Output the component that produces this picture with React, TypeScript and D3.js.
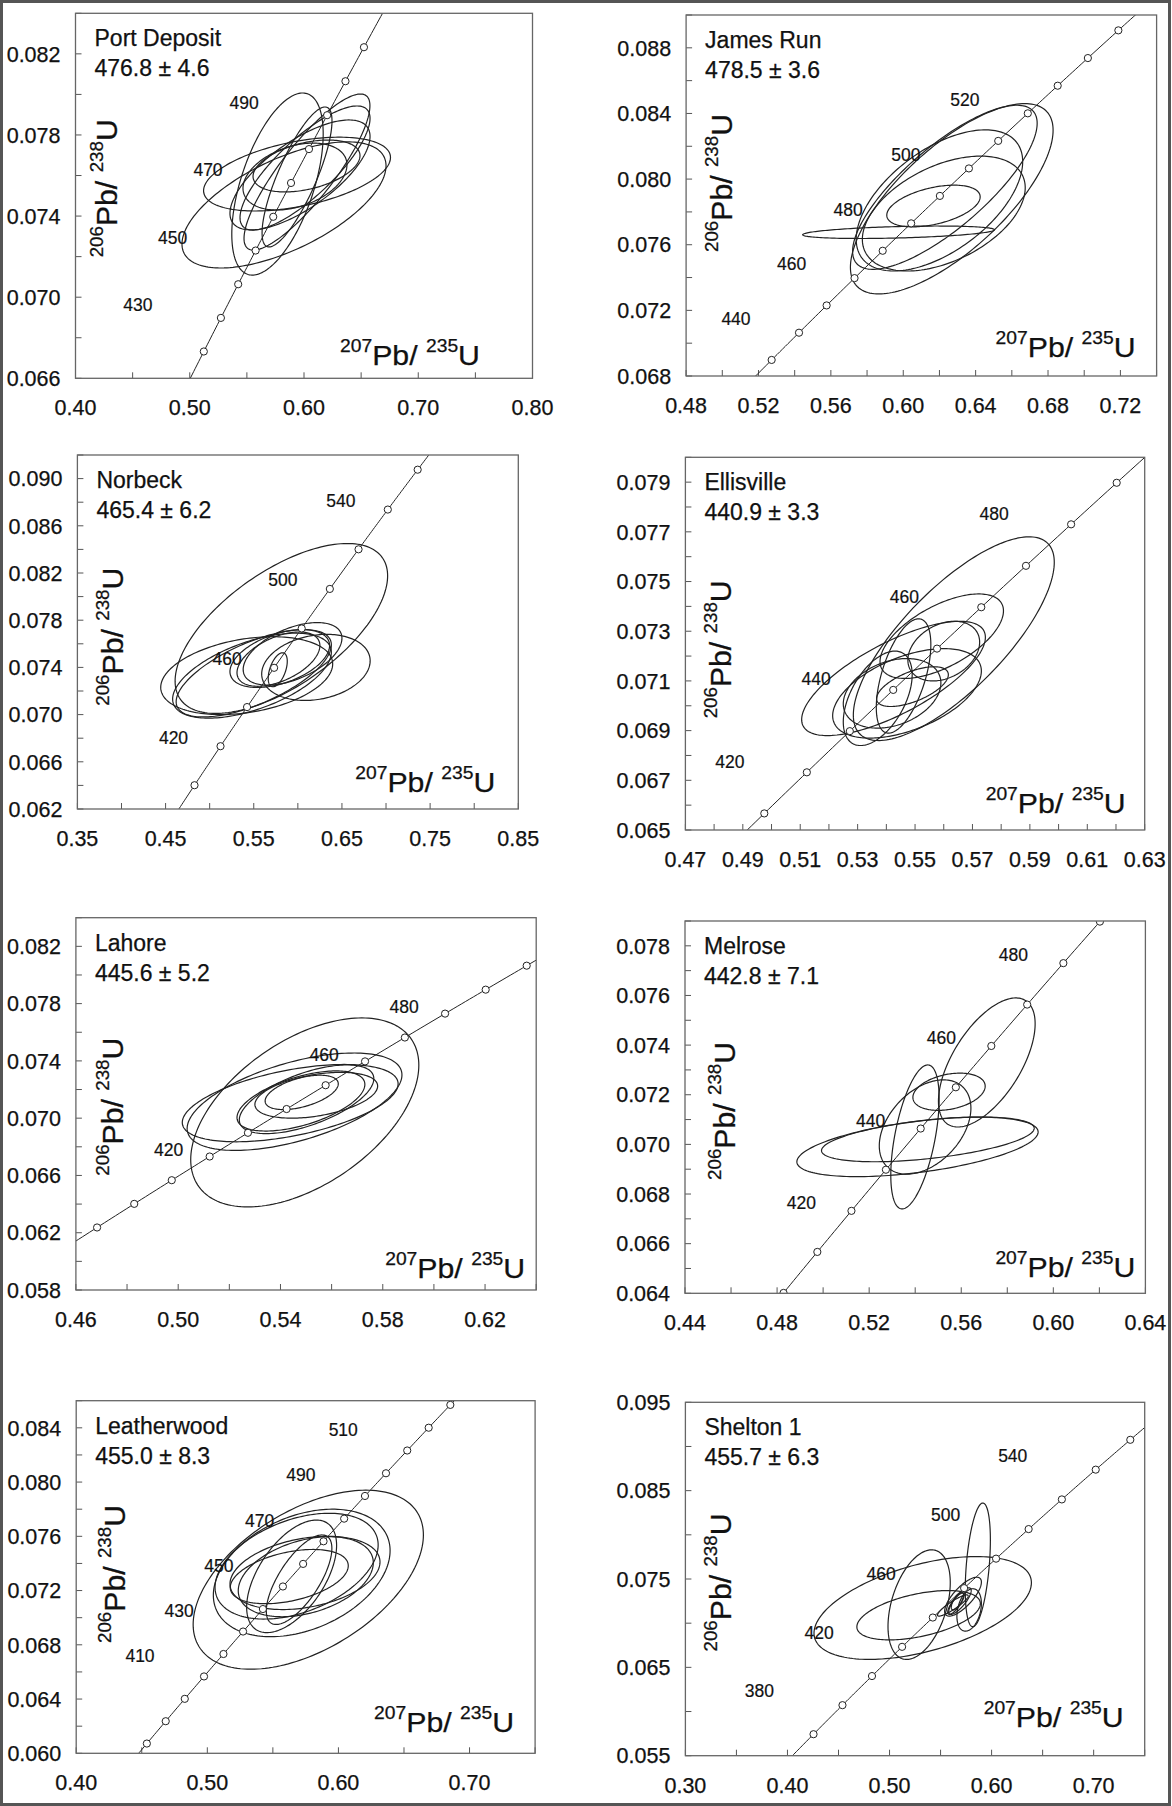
import React from 'react';
import * as d3 from 'd3';

// decay constants (per Ma)
const L238 = 1.55125e-4;
const L235 = 9.8485e-4;

const sampleNames = ['Port Deposit', 'James Run', 'Norbeck', 'Ellisville', 'Lahore', 'Melrose', 'Leatherwood', 'Shelton 1'];
const sampleAges = ['476.8 ± 4.6', '478.5 ± 3.6', '465.4 ± 6.2', '440.9 ± 3.3', '445.6 ± 5.2', '442.8 ± 7.1', '455.0 ± 8.3', '455.7 ± 6.3'];

const xDomains = [[0.40, 0.80], [0.48, 0.74], [0.35, 0.85], [0.47, 0.63], [0.46, 0.64], [0.44, 0.64], [0.40, 0.75], [0.30, 0.75]];
const yDomains = [[0.066, 0.084], [0.068, 0.090], [0.062, 0.092], [0.065, 0.080], [0.058, 0.084], [0.064, 0.079], [0.060, 0.086], [0.055, 0.095]];
const xTickSteps = [0.05, 0.02, 0.05, 0.01, 0.02, 0.02, 0.05, 0.05];
const yTickSteps = [0.002, 0.002, 0.002, 0.001, 0.002, 0.001, 0.002, 0.005];

const xTickLabels = [
  [0.40, 0.50, 0.60, 0.70, 0.80],
  [0.48, 0.52, 0.56, 0.60, 0.64, 0.68, 0.72],
  [0.35, 0.45, 0.55, 0.65, 0.75, 0.85],
  [0.47, 0.49, 0.51, 0.53, 0.55, 0.57, 0.59, 0.61, 0.63],
  [0.46, 0.50, 0.54, 0.58, 0.62],
  [0.44, 0.48, 0.52, 0.56, 0.60, 0.64],
  [0.40, 0.50, 0.60, 0.70],
  [0.30, 0.40, 0.50, 0.60, 0.70],
];
const yTickLabels = [
  [0.066, 0.070, 0.074, 0.078, 0.082],
  [0.068, 0.072, 0.076, 0.080, 0.084, 0.088],
  [0.062, 0.066, 0.070, 0.074, 0.078, 0.082, 0.086, 0.090],
  [0.065, 0.067, 0.069, 0.071, 0.073, 0.075, 0.077, 0.079],
  [0.058, 0.062, 0.066, 0.070, 0.074, 0.078, 0.082],
  [0.064, 0.066, 0.068, 0.070, 0.072, 0.074, 0.076, 0.078],
  [0.060, 0.064, 0.068, 0.072, 0.076, 0.080, 0.084],
  [0.055, 0.065, 0.075, 0.085, 0.095],
];

// concordia age markers (Ma)
const markerAges = [
  [420, 430, 440, 450, 460, 470, 480, 490, 500, 510],
  [430, 440, 450, 460, 470, 480, 490, 500, 510, 520, 530, 540, 550],
  [400, 420, 440, 460, 480, 500, 520, 540, 560],
  [410, 420, 430, 440, 450, 460, 470, 480, 490],
  [390, 400, 410, 420, 430, 440, 450, 460, 470, 480, 490, 500],
  [400, 410, 420, 430, 440, 450, 460, 470, 480, 490],
  [380, 390, 400, 410, 420, 430, 440, 450, 460, 470, 480, 490, 500, 510, 520, 530],
  [360, 380, 400, 420, 440, 460, 480, 500, 520, 540, 560],
];
const labelAges = [
  [430, 450, 470, 490],
  [440, 460, 480, 500, 520],
  [420, 460, 500, 540],
  [420, 440, 460, 480],
  [420, 460, 480],
  [420, 440, 460, 480],
  [410, 430, 450, 470, 490, 510],
  [380, 420, 460, 500, 540],
];

// error ellipses: [207Pb/235U, ±2s, 206Pb/238U, ±2s, rho]
const portDepositEllipses = [
  [0.5939, 0.0818, 0.07607, 0.00182, 0.45],
  [0.5825, 0.0893, 0.07455, 0.00311, 0.62],
  [0.5768, 0.0400, 0.07558, 0.00449, 0.55],
  [0.6026, 0.0551, 0.07617, 0.00385, 0.85],
  [0.6009, 0.0569, 0.07637, 0.00306, 0.80],
  [0.5965, 0.0613, 0.07603, 0.00271, 0.70],
  [0.6022, 0.0468, 0.07647, 0.00128, 0.40],
  [0.5939, 0.0306, 0.07593, 0.00345, 0.80],
  [0.5921, 0.0455, 0.07595, 0.00165, 0.35],
];
const jamesRunEllipses = [
  [0.6268, 0.0560, 0.0788, 0.0058, 0.72],
  [0.6230, 0.0510, 0.0795, 0.0050, 0.78],
  [0.6200, 0.0460, 0.0787, 0.0043, 0.55],
  [0.6224, 0.0450, 0.0779, 0.0035, 0.45],
  [0.6167, 0.0258, 0.07836, 0.00127, 0.44],
  [0.5974, 0.0530, 0.07676, 0.00038, 0.40],
];
const norbeckEllipses = [
  [0.5813, 0.1205, 0.0773, 0.0072, 0.62],
  [0.5420, 0.0975, 0.0733, 0.0033, 0.30],
  [0.5500, 0.0880, 0.0735, 0.0037, 0.65],
  [0.5480, 0.0900, 0.0733, 0.0036, 0.55],
  [0.5795, 0.0565, 0.07475, 0.00245, 0.45],
  [0.5780, 0.0470, 0.0747, 0.0023, 0.50],
  [0.5940, 0.0560, 0.07515, 0.00265, 0.50],
  [0.6205, 0.0615, 0.0740, 0.0028, 0.20],
  [0.5772, 0.0108, 0.0738, 0.00144, 0.50],
];
const ellisvilleEllipses = [
  [0.5635, 0.0350, 0.0727, 0.0041, 0.75],
  [0.5593, 0.0215, 0.0728, 0.0017, 0.60],
  [0.5472, 0.0259, 0.0705, 0.0018, 0.50],
  [0.5425, 0.0320, 0.0711, 0.0023, 0.72],
  [0.5491, 0.0125, 0.07077, 0.0008, 0.60],
  [0.5460, 0.0095, 0.0712, 0.0023, 0.55],
  [0.5370, 0.0120, 0.0703, 0.0019, 0.50],
  [0.5420, 0.0170, 0.0705, 0.0014, 0.30],
  [0.5600, 0.0125, 0.0722, 0.0012, 0.30],
];
const lahoreEllipses = [
  [0.5495, 0.0446, 0.0704, 0.0066, 0.50],
  [0.5438, 0.0422, 0.07105, 0.0027, 0.50],
  [0.5455, 0.0420, 0.07115, 0.0034, 0.55],
  [0.5502, 0.0263, 0.07132, 0.0024, 0.60],
  [0.5480, 0.0250, 0.0712, 0.0021, 0.55],
  [0.5540, 0.0240, 0.0716, 0.0016, 0.40],
  [0.5483, 0.0143, 0.0718, 0.0012, 0.50],
];
const melroseEllipses = [
  [0.5711, 0.0210, 0.0733, 0.0026, 0.60],
  [0.5547, 0.0157, 0.07212, 0.00075, 0.30],
  [0.5410, 0.0524, 0.0699, 0.0012, 0.50],
  [0.5455, 0.0462, 0.0702, 0.0009, 0.50],
  [0.5399, 0.0105, 0.0703, 0.0029, 0.53],
  [0.5443, 0.0199, 0.0707, 0.0019, 0.40],
];
const leatherwoodEllipses = [
  [0.5770, 0.0878, 0.0728, 0.0066, 0.50],
  [0.5720, 0.0674, 0.0733, 0.0047, 0.35],
  [0.5681, 0.0622, 0.0738, 0.0039, 0.40],
  [0.5745, 0.0572, 0.0733, 0.0027, 0.30],
  [0.5643, 0.0343, 0.07305, 0.00415, 0.55],
  [0.5625, 0.0450, 0.07303, 0.0020, 0.40],
  [0.5751, 0.0515, 0.07302, 0.00295, 0.35],
  [0.5700, 0.0250, 0.0728, 0.0033, 0.70],
];
const sheltonEllipses = [
  [0.5325, 0.1065, 0.07172, 0.00582, 0.49],
  [0.5285, 0.0605, 0.0709, 0.00279, 0.47],
  [0.5290, 0.0305, 0.0721, 0.0062, 0.40],
  [0.5865, 0.0123, 0.0766, 0.0070, 0.40],
  [0.5720, 0.0180, 0.0730, 0.0022, 0.75],
  [0.5690, 0.0110, 0.0725, 0.0015, 0.80],
  [0.5650, 0.0080, 0.0722, 0.0012, 0.80],
  [0.5780, 0.0120, 0.0715, 0.0024, 0.30],
  [0.5665, 0.0060, 0.0725, 0.0010, 0.70],
  [0.5620, 0.0150, 0.0720, 0.0012, 0.90],
];
const allEllipses = [portDepositEllipses, jamesRunEllipses, norbeckEllipses, ellisvilleEllipses,
  lahoreEllipses, melroseEllipses, leatherwoodEllipses, sheltonEllipses];

// ---- layout (pixels) ----
const panelBoxes = [
  [75.5, 13.3, 532.5, 378.3],
  [686.1, 15, 1156.6, 376],
  [77.4, 455, 518.3, 809],
  [685.4, 457.3, 1144.7, 830],
  [75.9, 917.7, 536.2, 1290],
  [685, 921, 1145.4, 1293.3],
  [76.2, 1400.7, 535.1, 1753.3],
  [685.4, 1402.3, 1144.7, 1755.7],
];
const yLabelPos = [[42, -7.5], [45.6, -12.5], [46, 4.7], [46, 5.7], [47.4, 2.8], [50.5, 3.8], [49, -3], [46, 3.5]];
const xLabelPos = [[52.5, 13.3], [21, 19.3], [23, 17], [19, 17], [11, 12], [10, 16], [21, 21.6], [21, 29]];
const ageLabelOffsets = [[-83, -13], [-63, -14], [-47, -9], [-77, -11], [-41, -7], [-50, -8], [-64, -21], [-83, -14]];

const INK = '#222';
const TXT = '#111';
const FONT = "'Liberation Sans', Arial, Helvetica, sans-serif";

const concX = (t: number) => Math.exp(L235 * t) - 1;
const concY = (t: number) => Math.exp(L238 * t) - 1;

function makeTicks(dom: number[], step: number) {
  const n = Math.round((dom[1] - dom[0]) / step);
  return d3.range(0, n + 1).map(k => +(dom[0] + k * step).toFixed(6));
}

function ellipsePoints(e: number[], xs: any, ys: any): [number, number][] {
  const [cx, sx, cy, sy, r] = e;
  const k = Math.sqrt(1 - r * r);
  return d3.range(0, 180).map(i => {
    const a = (i / 180) * 2 * Math.PI;
    return [xs(cx + sx * Math.cos(a)), ys(cy + sy * (r * Math.cos(a) + k * Math.sin(a)))] as [number, number];
  });
}

function Panel({ i }: { i: number }) {
  const [l, t, r, b] = panelBoxes[i];
  const xs = d3.scaleLinear().domain(xDomains[i]).range([l, r]);
  const ys = d3.scaleLinear().domain(yDomains[i]).range([b, t]);
  const xt = makeTicks(xDomains[i], xTickSteps[i]);
  const yt = makeTicks(yDomains[i], yTickSteps[i]);
  const closed = d3.line().curve(d3.curveLinearClosed);
  const open = d3.line();
  const conc = d3.range(200, 701, 1).map(a => [xs(concX(a)), ys(concY(a))] as [number, number]);
  const clipId = `clip${i}`;
  const [ylDx, ylDy] = yLabelPos[i];
  const [xlDx, xlDy] = xLabelPos[i];
  const [adx, ady] = ageLabelOffsets[i];
  const ylx = l + ylDx;
  const yly = (t + b) / 2 + ylDy;
  return (
    <g>
      <defs>
        <clipPath id={clipId}>
          <rect x={l} y={t} width={r - l} height={b - t} />
        </clipPath>
      </defs>
      {xt.map((v, k) => (
        <line key={'xt' + k} x1={xs(v)} x2={xs(v)} y1={b} y2={b - 6} stroke="#555" strokeWidth={1} />
      ))}
      {yt.map((v, k) => (
        <line key={'yt' + k} x1={l} x2={l + 6} y1={ys(v)} y2={ys(v)} stroke="#555" strokeWidth={1} />
      ))}
      {xTickLabels[i].map((v, k) => (
        <text key={'xl' + k} x={xs(v)} y={b + 37} textAnchor="middle" fontSize={21.5} fill={TXT} stroke={TXT} strokeWidth={0.25}>{v.toFixed(2)}</text>
      ))}
      {yTickLabels[i].map((v, k) => (
        <text key={'yl' + k} x={l - 15} y={ys(v)} dy="0.36em" textAnchor="end" fontSize={21.5} fill={TXT} stroke={TXT} strokeWidth={0.25}>{v.toFixed(3)}</text>
      ))}
      <g clipPath={`url(#${clipId})`}>
        <path d={open(conc) || ''} fill="none" stroke={INK} strokeWidth={1} />
        {allEllipses[i].map((e, k) => (
          <path key={'e' + k} d={closed(ellipsePoints(e, xs, ys)) || ''} fill="none" stroke={INK} strokeWidth={1.2} />
        ))}
        {markerAges[i].map((a, k) => (
          <circle key={'m' + k} cx={xs(concX(a))} cy={ys(concY(a))} r={3.6} fill="#fff" stroke={INK} strokeWidth={1} />
        ))}
      </g>
      {labelAges[i].map((a, k) => (
        <text key={'al' + k} x={xs(concX(a)) + adx} y={ys(concY(a)) + ady} dy="0.36em" textAnchor="middle" fontSize={17.5} fill={TXT} stroke={TXT} strokeWidth={0.2}>{a}</text>
      ))}
      <rect x={l} y={t} width={r - l} height={b - t} fill="none" stroke="#666" strokeWidth={1.3} />
      <text x={l + 19} y={t + 33} fontSize={23} fill={TXT} stroke={TXT} strokeWidth={0.25}>{sampleNames[i]}</text>
      <text x={l + 19} y={t + 63} fontSize={23} fill={TXT} stroke={TXT} strokeWidth={0.25}>{sampleAges[i]}</text>
      <text x={r - xlDx} y={b - xlDy} textAnchor="end" fontSize={27.5} fill={TXT} stroke={TXT} strokeWidth={0.25} textLength={140} lengthAdjust="spacingAndGlyphs">
        <tspan fontSize={17.5} dy={-13}>207</tspan>
        <tspan dy={13}>{'Pb/ '}</tspan>
        <tspan fontSize={17.5} dy={-13}>235</tspan>
        <tspan dy={13}>U</tspan>
      </text>
      <text x={ylx} y={yly} transform={`rotate(-90 ${ylx} ${yly})`} textAnchor="middle" fontSize={29} fill={TXT} stroke={TXT} strokeWidth={0.25} textLength={138} lengthAdjust="spacingAndGlyphs">
        <tspan fontSize={18} dy={-14}>206</tspan>
        <tspan dy={14}>{'Pb/ '}</tspan>
        <tspan fontSize={18} dy={-14}>238</tspan>
        <tspan dy={14}>U</tspan>
      </text>
    </g>
  );
}

export default function App() {
  const W = 1172;
  const H = 1806;
  return (
    <svg width={W} height={H} style={{ position: 'absolute', left: 0, top: 0, display: 'block' }} fontFamily={FONT}>
      <rect x={0} y={0} width={W} height={H} fill="#fff" />
      <rect x={1.5} y={1.5} width={W - 4} height={H - 3} fill="none" stroke="#555" strokeWidth={3} />
      {sampleNames.map((_, i) => <Panel key={i} i={i} />)}
    </svg>
  );
}
